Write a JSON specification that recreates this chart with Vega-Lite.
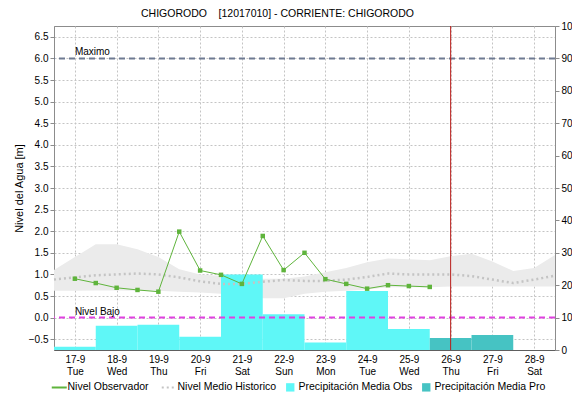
{
  "$schema": "https://vega.github.io/schema/vega-lite/v6.json",
  "width": 501,
  "height": 324,
  "autosize": "none",
  "padding": {"left": 54, "top": 26, "right": 17, "bottom": 51},
  "title": {"text": "CHIGORODO\u00a0\u00a0\u00a0\u00a0[12017010] - CORRIENTE: CHIGORODO", "fontSize": 10.5, "font": "Liberation Sans", "fontWeight": "normal", "anchor": "middle", "dx": -27, "offset": 2, "color": "#000000"},
  "config": {
    "font": "Liberation Sans",
    "view": {"stroke": "#8c8c8c"},
    "axis": {"labelFont": "Liberation Sans", "labelFontSize": 10, "labelColor": "#000000", "titleFont": "Liberation Sans", "titleFontSize": 11, "titleFontWeight": "normal", "titleColor": "#000000", "gridColor": "#c4c4c4", "gridDash": [2, 2], "gridWidth": 1, "domainColor": "#8c8c8c", "tickColor": "#8c8c8c"},
    "legend": {"labelFont": "Liberation Sans", "labelFontSize": 10.5, "labelColor": "#000000"}
  },
  "datasets": {
    "obs": [
      {"t": "2024-09-17T00:00:00Z", "nivel": 0.90},
      {"t": "2024-09-17T12:00:00Z", "nivel": 0.80},
      {"t": "2024-09-18T00:00:00Z", "nivel": 0.69},
      {"t": "2024-09-18T12:00:00Z", "nivel": 0.64},
      {"t": "2024-09-19T00:00:00Z", "nivel": 0.60},
      {"t": "2024-09-19T12:00:00Z", "nivel": 1.99},
      {"t": "2024-09-20T00:00:00Z", "nivel": 1.09},
      {"t": "2024-09-20T12:00:00Z", "nivel": 0.99},
      {"t": "2024-09-21T00:00:00Z", "nivel": 0.78},
      {"t": "2024-09-21T12:00:00Z", "nivel": 1.89},
      {"t": "2024-09-22T00:00:00Z", "nivel": 1.10},
      {"t": "2024-09-22T12:00:00Z", "nivel": 1.50},
      {"t": "2024-09-23T00:00:00Z", "nivel": 0.89},
      {"t": "2024-09-23T12:00:00Z", "nivel": 0.78},
      {"t": "2024-09-24T00:00:00Z", "nivel": 0.67},
      {"t": "2024-09-24T12:00:00Z", "nivel": 0.75},
      {"t": "2024-09-25T00:00:00Z", "nivel": 0.73},
      {"t": "2024-09-25T12:00:00Z", "nivel": 0.71}
    ],
    "hist": [
      {"t": "2024-09-16T12:00:00Z", "hmax": 1.10, "hmin": 0.62, "hmed": 0.88},
      {"t": "2024-09-17T00:00:00Z", "hmax": 1.40, "hmin": 0.62, "hmed": 0.93},
      {"t": "2024-09-17T12:00:00Z", "hmax": 1.70, "hmin": 0.63, "hmed": 0.98},
      {"t": "2024-09-18T00:00:00Z", "hmax": 1.70, "hmin": 0.63, "hmed": 1.00},
      {"t": "2024-09-18T12:00:00Z", "hmax": 1.58, "hmin": 0.62, "hmed": 1.02},
      {"t": "2024-09-19T00:00:00Z", "hmax": 1.40, "hmin": 0.62, "hmed": 1.00},
      {"t": "2024-09-19T12:00:00Z", "hmax": 1.12, "hmin": 0.60, "hmed": 0.93},
      {"t": "2024-09-20T00:00:00Z", "hmax": 1.00, "hmin": 0.58, "hmed": 0.84},
      {"t": "2024-09-20T12:00:00Z", "hmax": 0.97, "hmin": 0.55, "hmed": 0.78},
      {"t": "2024-09-21T00:00:00Z", "hmax": 0.95, "hmin": 0.52, "hmed": 0.78},
      {"t": "2024-09-21T12:00:00Z", "hmax": 0.90, "hmin": 0.45, "hmed": 0.83},
      {"t": "2024-09-22T00:00:00Z", "hmax": 0.90, "hmin": 0.45, "hmed": 0.87},
      {"t": "2024-09-22T12:00:00Z", "hmax": 0.95, "hmin": 0.55, "hmed": 0.85},
      {"t": "2024-09-23T00:00:00Z", "hmax": 1.05, "hmin": 0.60, "hmed": 0.85},
      {"t": "2024-09-23T12:00:00Z", "hmax": 1.15, "hmin": 0.62, "hmed": 0.88},
      {"t": "2024-09-24T00:00:00Z", "hmax": 1.28, "hmin": 0.65, "hmed": 0.94},
      {"t": "2024-09-24T12:00:00Z", "hmax": 1.37, "hmin": 0.70, "hmed": 1.02},
      {"t": "2024-09-25T00:00:00Z", "hmax": 1.35, "hmin": 0.70, "hmed": 1.00},
      {"t": "2024-09-25T12:00:00Z", "hmax": 1.33, "hmin": 0.70, "hmed": 1.00},
      {"t": "2024-09-26T00:00:00Z", "hmax": 1.42, "hmin": 0.72, "hmed": 1.00},
      {"t": "2024-09-26T12:00:00Z", "hmax": 1.48, "hmin": 0.72, "hmed": 0.96},
      {"t": "2024-09-27T00:00:00Z", "hmax": 1.30, "hmin": 0.72, "hmed": 0.88},
      {"t": "2024-09-27T12:00:00Z", "hmax": 1.08, "hmin": 0.72, "hmed": 0.80},
      {"t": "2024-09-28T00:00:00Z", "hmax": 1.15, "hmin": 0.72, "hmed": 0.88},
      {"t": "2024-09-28T12:00:00Z", "hmax": 1.45, "hmin": 0.72, "hmed": 0.97}
    ],
    "precip": [
      {"ini": "2024-09-16T12:00:00Z", "fin": "2024-09-17T12:00:00Z", "mm": 1.0, "tipo": "Precipitación Media Obs"},
      {"ini": "2024-09-17T12:00:00Z", "fin": "2024-09-18T12:00:00Z", "mm": 7.5, "tipo": "Precipitación Media Obs"},
      {"ini": "2024-09-18T12:00:00Z", "fin": "2024-09-19T12:00:00Z", "mm": 7.8, "tipo": "Precipitación Media Obs"},
      {"ini": "2024-09-19T12:00:00Z", "fin": "2024-09-20T12:00:00Z", "mm": 4.1, "tipo": "Precipitación Media Obs"},
      {"ini": "2024-09-20T12:00:00Z", "fin": "2024-09-21T12:00:00Z", "mm": 23.3, "tipo": "Precipitación Media Obs"},
      {"ini": "2024-09-21T12:00:00Z", "fin": "2024-09-22T12:00:00Z", "mm": 11.0, "tipo": "Precipitación Media Obs"},
      {"ini": "2024-09-22T12:00:00Z", "fin": "2024-09-23T12:00:00Z", "mm": 2.3, "tipo": "Precipitación Media Obs"},
      {"ini": "2024-09-23T12:00:00Z", "fin": "2024-09-24T12:00:00Z", "mm": 18.2, "tipo": "Precipitación Media Obs"},
      {"ini": "2024-09-24T12:00:00Z", "fin": "2024-09-25T12:00:00Z", "mm": 6.5, "tipo": "Precipitación Media Obs"},
      {"ini": "2024-09-25T12:00:00Z", "fin": "2024-09-26T12:00:00Z", "mm": 3.7, "tipo": "Precipitación Media Pro"},
      {"ini": "2024-09-26T12:00:00Z", "fin": "2024-09-27T12:00:00Z", "mm": 4.6, "tipo": "Precipitación Media Pro"}
    ],
    "refs": [
      {"label": "Maximo", "nivel": 6.0},
      {"label": "Nivel Bajo", "nivel": 0.0}
    ],
    "ahora": [
      {"t": "2024-09-26T00:00:00Z"}
    ]
  },
  "layer": [
    {
      "data": {"name": "hist"},
      "mark": {"type": "area", "color": "#ebebeb", "opacity": 1},
      "encoding": {
        "x": {
          "field": "t", "type": "temporal",
          "scale": {"type": "utc", "domain": [{"year": 2024, "month": 9, "date": 16, "hours": 12, "utc": true}, {"year": 2024, "month": 9, "date": 28, "hours": 12, "utc": true}]},
          "axis": {"title": null, "tickCount": {"interval": "day", "step": 1}, "grid": true, "ticks": false, "domain": true, "domainColor": "#303030", "domainDash": [1, 1], "labelExpr": "[utcFormat(datum.value, '%-d-%-m'), utcFormat(datum.value, '%a')]", "labelAlign": "center", "labelBaseline": "top", "labelPadding": 4, "labelLineHeight": 12, "labelFlush": false, "labelOverlap": false}
        },
        "y": {
          "field": "hmax", "type": "quantitative",
          "scale": {"domain": [-0.75, 6.75], "nice": false, "zero": false},
          "axis": {"orient": "left", "title": "Nivel del Agua [m]", "titlePadding": 4, "values": [-0.5, 0, 0.5, 1, 1.5, 2, 2.5, 3, 3.5, 4, 4.5, 5, 5.5, 6, 6.5], "format": ".1f", "grid": true, "tickSize": 4, "labelPadding": 2}
        },
        "y2": {"field": "hmin"}
      }
    },
    {
      "data": {"name": "precip"},
      "mark": {"type": "bar"},
      "encoding": {
        "x": {"field": "ini", "type": "temporal"},
        "x2": {"field": "fin"},
        "y": {
          "field": "mm", "type": "quantitative",
          "scale": {"domain": [0, 100], "nice": false},
          "axis": {"orient": "right", "title": null, "values": [0, 10, 20, 30, 40, 50, 60, 70, 80, 90, 100], "grid": false, "tickSize": 4, "labelPadding": 2}
        },
        "y2": {"datum": 0},
        "color": {
          "field": "tipo", "type": "nominal",
          "scale": {"domain": ["Nivel Observador", "Nivel Medio Historico", "Precipitación Media Obs", "Precipitación Media Pro"], "range": ["#5fb43c", "#c4c4c4", "#5ff7f7", "#46c3c3"]},
          "legend": {
            "orient": "bottom", "direction": "horizontal", "title": null, "offset": 6, "columnPadding": 8, "symbolSize": 100, "labelOffset": 3,
            "encode": {
              "symbols": {
                "update": {
                  "shape": {"signal": "datum.value == 'Nivel Observador' || datum.value == 'Nivel Medio Historico' ? 'stroke' : 'square'"},
                  "size": {"signal": "datum.value == 'Nivel Observador' || datum.value == 'Nivel Medio Historico' ? 225 : 70"},
                  "fill": {"signal": "datum.value == 'Nivel Observador' || datum.value == 'Nivel Medio Historico' ? 'transparent' : scale('color', datum.value)"},
                  "stroke": {"signal": "scale('color', datum.value)"},
                  "strokeWidth": {"signal": "datum.value == 'Nivel Observador' || datum.value == 'Nivel Medio Historico' ? 2 : 0"},
                  "strokeDash": {"signal": "datum.value == 'Nivel Medio Historico' ? [2, 3] : [1, 0]"},
                  "opacity": {"value": 1}
                }
              }
            }
          }
        }
      }
    },
    {
      "layer": [
        {
          "data": {"name": "hist"},
          "mark": {"type": "line", "strokeDash": [2, 3], "strokeWidth": 2.5},
          "encoding": {
            "x": {"field": "t", "type": "temporal"},
            "y": {"field": "hmed", "type": "quantitative", "scale": {"domain": [-0.75, 6.75], "nice": false, "zero": false}, "axis": null},
            "color": {"datum": "Nivel Medio Historico", "type": "nominal"}
          }
        },
        {
          "data": {"name": "refs"},
          "mark": {"type": "rule", "strokeWidth": 2, "strokeDash": [6, 4]},
          "encoding": {
            "y": {"field": "nivel", "type": "quantitative"},
            "stroke": {"field": "label", "type": "nominal", "scale": {"domain": ["Maximo", "Nivel Bajo"], "range": ["#6e7a92", "#e040e0"]}, "legend": null}
          }
        },
        {
          "data": {"name": "refs"},
          "mark": {"type": "text", "align": "left", "baseline": "alphabetic", "dy": -3, "fontSize": 10, "color": "#000000"},
          "encoding": {
            "x": {"datum": {"year": 2024, "month": 9, "date": 17, "utc": true}, "type": "temporal"},
            "y": {"field": "nivel", "type": "quantitative"},
            "text": {"field": "label"}
          }
        },
        {
          "data": {"name": "obs"},
          "mark": {"type": "line", "strokeWidth": 1, "point": {"filled": true, "shape": "square", "size": 20}},
          "encoding": {
            "x": {"field": "t", "type": "temporal"},
            "y": {"field": "nivel", "type": "quantitative"},
            "color": {"datum": "Nivel Observador", "type": "nominal"}
          }
        },
        {
          "data": {"name": "ahora"},
          "mark": {"type": "rule", "color": "#b81c18", "strokeWidth": 1},
          "encoding": {
            "x": {"field": "t", "type": "temporal"}
          }
        }
      ]
    }
  ],
  "resolve": {"scale": {"y": "independent"}, "axis": {"y": "independent"}}
}
